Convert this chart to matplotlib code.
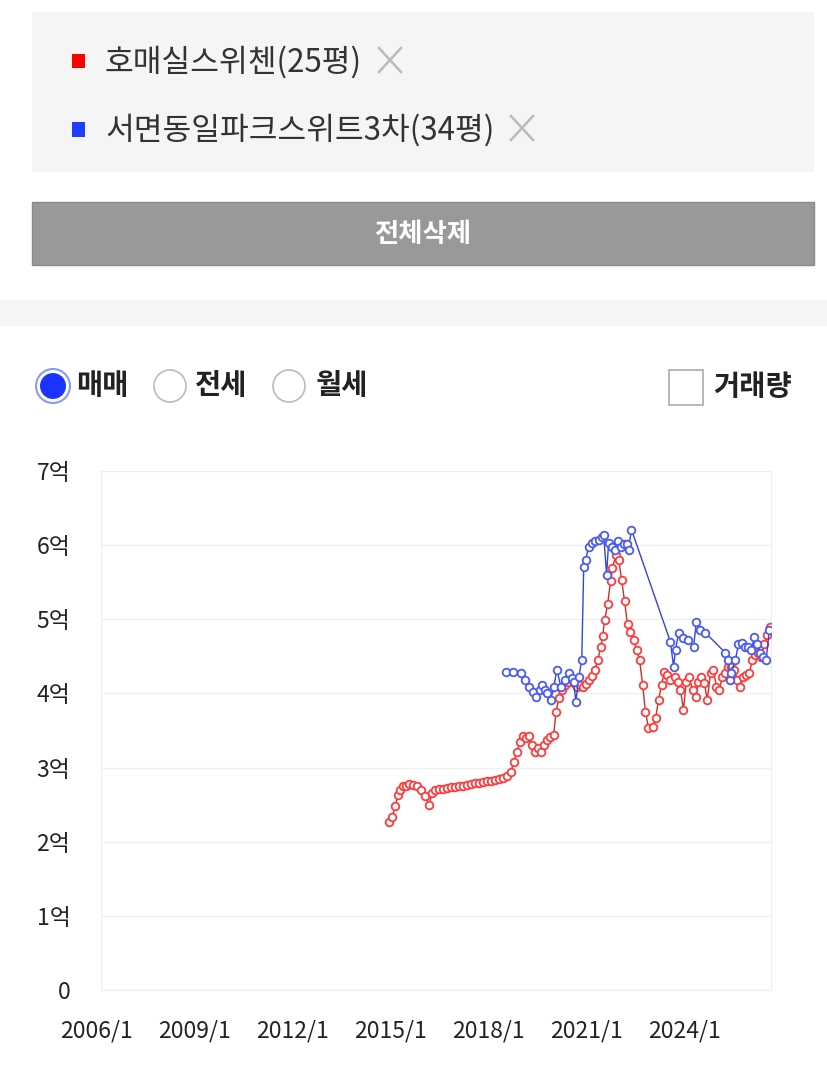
import numpy as np
import matplotlib.pyplot as plt
import matplotlib.transforms as mtransforms
from matplotlib.patches import Rectangle, Circle

plt.rcParams['font.family'] = ['Noto Sans CJK KR', 'DejaVu Sans']

###--- Data (price in 억 won, time in decimal years)
name_red = "호매실스위첸(25평)"
name_blue = "서면동일파크스위트3차(34평)"

red_year = [2014.82, 2014.91, 2015.00, 2015.09, 2015.15, 2015.25, 2015.34, 2015.43, 2015.55, 2015.67,
            2015.80, 2015.92, 2016.04, 2016.13, 2016.22, 2016.34, 2016.47, 2016.59, 2016.71, 2016.83,
            2016.96, 2017.08, 2017.20, 2017.32, 2017.44, 2017.57, 2017.69, 2017.81, 2017.93, 2018.05,
            2018.18, 2018.30, 2018.42, 2018.54, 2018.63, 2018.73, 2018.82, 2018.91, 2019.00, 2019.09,
            2019.18, 2019.27, 2019.37, 2019.46, 2019.55, 2019.64, 2019.73, 2019.85, 2019.92, 2020.01,
            2020.10, 2020.19, 2020.28, 2020.37, 2020.46, 2020.56, 2020.65, 2020.74, 2020.83, 2020.92,
            2021.01, 2021.11, 2021.20, 2021.29, 2021.35, 2021.41, 2021.50, 2021.59, 2021.65, 2021.75,
            2021.84, 2021.93, 2022.02, 2022.11, 2022.20, 2022.30, 2022.39, 2022.48, 2022.57, 2022.66,
            2022.75, 2022.88, 2022.97, 2023.06, 2023.15, 2023.24, 2023.33, 2023.42, 2023.55, 2023.64,
            2023.73, 2023.82, 2023.91, 2024.00, 2024.10, 2024.19, 2024.28, 2024.37, 2024.46, 2024.55,
            2024.65, 2024.74, 2024.83, 2024.92, 2025.01, 2025.10, 2025.19, 2025.29, 2025.38, 2025.47,
            2025.56, 2025.65, 2025.74, 2025.84, 2025.93, 2026.02, 2026.11, 2026.20, 2026.29, 2026.38,
            2026.48]
red_price = [2.27, 2.33, 2.48, 2.63, 2.70, 2.75, 2.75, 2.78, 2.77, 2.75,
             2.70, 2.62, 2.50, 2.66, 2.70, 2.71, 2.71, 2.73, 2.74, 2.74,
             2.75, 2.75, 2.77, 2.78, 2.79, 2.79, 2.81, 2.82, 2.82, 2.83,
             2.85, 2.86, 2.89, 2.94, 3.08, 3.21, 3.35, 3.43, 3.40, 3.43,
             3.31, 3.21, 3.27, 3.21, 3.31, 3.37, 3.41, 3.44, 3.75, 3.94,
             4.05, 4.12, 4.16, 4.20, 4.14, 4.08, 4.12, 4.08, 4.13, 4.18,
             4.24, 4.32, 4.45, 4.62, 4.78, 4.99, 5.20, 5.51, 5.69, 5.87,
             5.80, 5.53, 5.24, 4.93, 4.83, 4.72, 4.59, 4.45, 4.12, 3.75,
             3.54, 3.55, 3.67, 3.91, 4.12, 4.29, 4.25, 4.18, 4.22, 4.16,
             4.05, 3.78, 4.16, 4.22, 4.05, 3.95, 4.16, 4.22, 4.14, 3.91,
             4.28, 4.32, 4.08, 4.05, 4.22, 4.28, 4.35, 4.36, 4.32, 4.18,
             4.08, 4.22, 4.25, 4.28, 4.45, 4.52, 4.55, 4.49, 4.66, 4.79,
             4.89]

blue_year = [2018.39, 2018.60, 2018.85, 2018.97, 2019.09, 2019.21, 2019.30, 2019.43, 2019.49, 2019.58,
             2019.64, 2019.76, 2019.85, 2019.95, 2020.07, 2020.19, 2020.31, 2020.40, 2020.46, 2020.53,
             2020.62, 2020.71, 2020.77, 2020.83, 2020.92, 2021.01, 2021.11, 2021.23, 2021.32, 2021.38,
             2021.47, 2021.53, 2021.62, 2021.72, 2021.81, 2021.90, 2021.99, 2022.08, 2022.14, 2022.23,
             2023.42, 2023.52, 2023.58, 2023.67, 2023.82, 2023.97, 2024.13, 2024.22, 2024.34, 2024.49,
             2025.10, 2025.19, 2025.26, 2025.29, 2025.41, 2025.50, 2025.62, 2025.71, 2025.80, 2025.90,
             2025.99, 2026.08, 2026.17, 2026.26, 2026.35, 2026.45]
blue_price = [4.29, 4.29, 4.28, 4.18, 4.09, 4.02, 3.95, 4.05, 4.12, 4.05,
              4.01, 3.91, 4.08, 4.32, 4.09, 4.18, 4.28, 4.21, 4.16, 3.89,
              4.22, 4.45, 5.71, 5.80, 5.98, 6.03, 6.05, 6.07, 6.11, 6.14,
              5.60, 6.03, 5.98, 5.94, 6.05, 5.98, 6.01, 6.02, 5.94, 6.21,
              4.70, 4.36, 4.59, 4.82, 4.75, 4.72, 4.63, 4.97, 4.86, 4.82,
              4.55, 4.45, 4.18, 4.28, 4.45, 4.66, 4.68, 4.63, 4.62, 4.59,
              4.76, 4.66, 4.55, 4.49, 4.45, 4.86]

x_ticks = [2006, 2009, 2012, 2015, 2018, 2021, 2024]
x_labels = [f"{y}/1" for y in x_ticks]
y_ticks = [0, 1, 2, 3, 4, 5, 6, 7]
y_labels = ["0"] + [f"{v}억" for v in y_ticks[1:]]

radio_labels = ["매매", "전세", "월세"]

###--- Figure
W, H = 827, 1074
fig = plt.figure(figsize=(W/100, H/100), dpi=100)
fig.patch.set_facecolor('white')

# overlay in pixel coordinates for the page widgets
ui = fig.add_axes([0, 0, 1, 1])
ui.set_xlim(0, W)
ui.set_ylim(H, 0)
ui.axis('off')

# series box
ui.add_patch(Rectangle((32, 12), 782, 160, facecolor='#f5f5f5', edgecolor='none'))
ui.add_patch(Rectangle((72, 54), 13, 14, facecolor='#ff0000', edgecolor='none'))
ui.add_patch(Rectangle((72, 122), 13, 15, facecolor='#1f3cff', edgecolor='none'))
ui.text(105, 62, name_red, fontsize=22.5, color='#333333', va='center', ha='left')
ui.text(105, 130, name_blue, fontsize=22.5, color='#333333', va='center', ha='left')
for xc, yc in [(390, 60), (522, 128)]:
    ui.plot([xc-11, xc+11], [yc-12, yc+12], color='#bbbbbb', lw=1.8)
    ui.plot([xc-11, xc+11], [yc+12, yc-12], color='#bbbbbb', lw=1.8)

# delete-all button
ui.add_patch(Rectangle((32, 202), 782, 63, facecolor='#999999', edgecolor='#8a8a8a', lw=1))
ui.text(423, 234, "전체삭제", fontsize=19, color='white', fontweight='bold', va='center', ha='center')

# separator band
ui.add_patch(Rectangle((0, 300), W, 26, facecolor='#f5f5f5', edgecolor='none'))

# radio buttons
ui.add_patch(Circle((53, 386), 17, facecolor='white', edgecolor='#8899ff', lw=1.5))
ui.add_patch(Circle((53, 386), 13, facecolor='#1a35ff', edgecolor='none'))
ui.add_patch(Circle((170, 386), 16, facecolor='white', edgecolor='#bbbbbb', lw=1.2))
ui.add_patch(Circle((289, 386), 16, facecolor='white', edgecolor='#bbbbbb', lw=1.2))
for xt, lab in zip([76, 195, 316], radio_labels):
    ui.text(xt, 386, lab, fontsize=20.5, fontweight='bold', color='#222222', va='center', ha='left')

# volume checkbox
ui.add_patch(Rectangle((669, 370), 34, 35, facecolor='white', edgecolor='#aaaaaa', lw=1.2))
ui.text(713, 387, "거래량", fontsize=20.5, fontweight='bold', color='#222222', va='center', ha='left')

###--- Chart
ax = fig.add_axes([101/W, 1 - 990/H, 670/W, 519/H])
ax.plot(red_year, red_price, '-o', color='#c8302c', lw=1.0, ms=5.5,
        mfc='white', mec='#ff3b3b', mew=1.3, zorder=3)
ax.plot(blue_year, blue_price, '-o', color='#3445d6', lw=1.0, ms=5.5,
        mfc='white', mec='#4a5cf0', mew=1.3, zorder=4)

ax.set_xlim(2006, 2026.5)
ax.set_ylim(0, 7)
ax.set_xticks(x_ticks)
ax.set_xticklabels(x_labels)
ax.set_yticks(y_ticks)
ax.set_yticklabels(y_labels)
ax.tick_params(length=0, labelsize=16.5, colors='#222222')
ax.tick_params(axis='y', pad=22)
ax.tick_params(axis='x', pad=21)
shift = mtransforms.ScaledTranslation(-5/100, 0, fig.dpi_scale_trans)
for lab in ax.get_xticklabels():
    lab.set_transform(lab.get_transform() + shift)
ax.grid(axis='y', color='#f0f0f0', lw=1)
for s in ax.spines.values():
    s.set_color('#eeeeee')

fig.savefig("out.png", dpi=100)
